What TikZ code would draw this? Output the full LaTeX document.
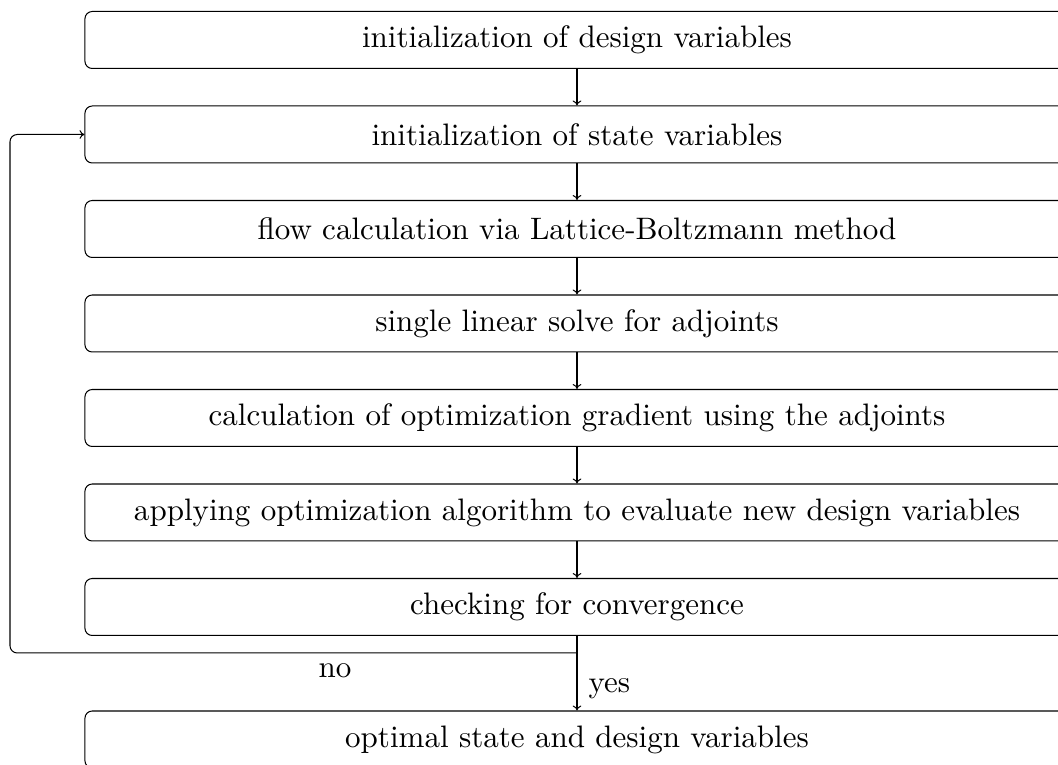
\documentclass[tikz,border=0pt]{standalone}
\usepackage{fontspec}
\usetikzlibrary{arrows.meta}
\begin{document}
\begin{tikzpicture}[x=0.3457pt,y=-0.3457pt,
  font=\fontsize{10.73pt}{13pt}\selectfont,
  box/.style={draw, rounded corners=2.5pt, minimum width=340.2pt, minimum height=19.7pt, inner sep=0pt, line width=0.35pt},
  arr/.style={-{To[length=1.7pt,width=3pt]}, line width=0.35pt},
  lbl/.style={inner sep=0pt}]
\clip (0,0) rectangle (1058,765);
\node[box] (b1) at (577,40) {initialization of design variables};
\node[box] (b2) at (577,134.5) {initialization of state variables};
\node[box] (b3) at (577,229) {flow calculation via Lattice-Boltzmann method};
\node[box] (b4) at (577,323.5) {single linear solve for adjoints};
\node[box] (b5) at (577,418) {calculation of optimization gradient using the adjoints};
\node[box] (b6) at (577,512.5) {applying optimization algorithm to evaluate new design variables};
\node[box] (b7) at (577,607) {checking for convergence};
\node[box] (b8) at (577,739.5) {optimal state and design variables};
\draw[arr] (b1) -- (b2);
\draw[arr] (b2) -- (b3);
\draw[arr] (b3) -- (b4);
\draw[arr] (b4) -- (b5);
\draw[arr] (b5) -- (b6);
\draw[arr] (b6) -- (b7);
\draw[arr] (b7) -- (b8);
\node[lbl, anchor=west] (yes) at (588,689) {yes};
\coordinate (j) at (577,653);
\coordinate (c1) at (10,653);
\coordinate (c2) at (10,134.5);
\draw[arr, rounded corners=2.5pt] (j) -- (c1) -- (c2) -- (b2.west);
\node[lbl] (no) at (335,671) {no};
\end{tikzpicture}
\end{document}
